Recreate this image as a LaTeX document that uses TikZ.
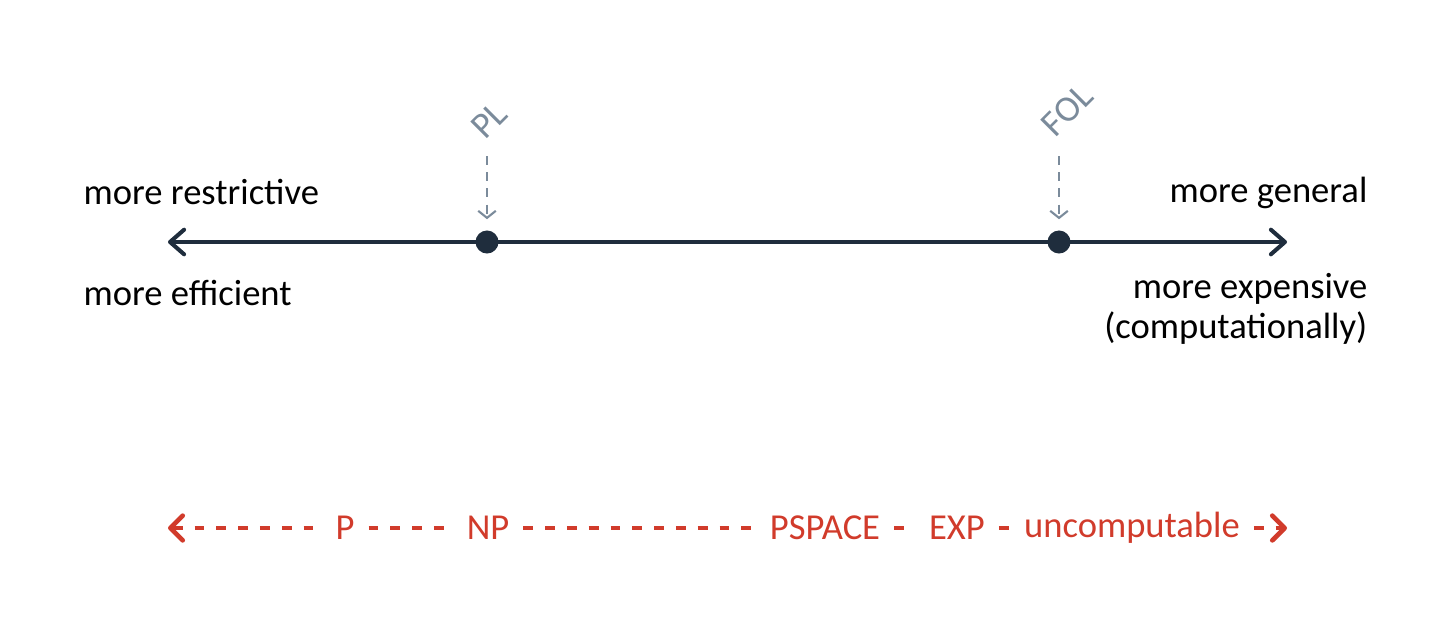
\documentclass[tikz,border=0pt]{standalone}
\usepackage{fontspec}
\setmainfont{Carlito}
\usepackage{xcolor}
\usepackage{tikz}
\usetikzlibrary{positioning,arrows.meta}
\definecolor{axisnavy}{HTML}{1F2D3D}
\definecolor{pointgray}{HTML}{7B8B9B}
\definecolor{classred}{HTML}{D13B2B}
\tikzset{
  classtip/.tip={Straight Barb[round,length=3.5pt,width=7pt]},
  axis line/.style={
    draw=axisnavy,
    line width=1.15pt,
    {Straight Barb[round,length=4pt,width=7pt]}-{Straight Barb[round,length=4pt,width=7pt]},
  },
  logic dot/.style={
    circle,
    fill=axisnavy,
    inner sep=0pt,
    minimum size={0.23cm},
  },
  logic label/.style={
    text=pointgray,
    rotate=45,
    inner sep=0pt,
  },
  pointer/.style={
    draw=pointgray,
    line width=0.6pt,
    dash pattern=on 2.6pt off 2pt,
    -{Straight Barb[length=2pt,width=5pt]},
  },
  side text/.style={
    inner sep=0pt,
  },
  class line/.style={
    draw=classred,
    line width=1.35pt,
    dash pattern=on 2.8pt off 3.4pt,
  },
  class/.style={
    text=classred,
    inner xsep=3.8pt,
    inner ysep=1pt,
  },
}

\begin{document}
\begin{tikzpicture}[x=0.01cm, y=-0.01cm, font=\fontsize{10.4}{11.4}\selectfont]
    \useasboundingbox (0,0) rectangle (1436,618);

    % the axis of logics
    \coordinate (axl) at (168,242);
    \coordinate (axr) at (1287,242);
    \draw [axis line] (axl) -- (axr);
    \node [logic dot] (pl) at (487,242) {};
    \node [logic dot] (fol) at (1059,242) {};

    \node [logic label] (pllab) at (489,120) {PL};
    \node [logic label] (follab) at (1067,110) {FOL};
    \coordinate (plfrom) at (487,156);
    \coordinate (folfrom) at (1059,156);
    \draw [pointer, shorten >=3pt] (plfrom) -- (pl.north);
    \draw [pointer, shorten >=3pt] (folfrom) -- (fol.north);

    \node [side text, anchor=west] (restr) at (83,192) {more restrictive};
    \node [side text, anchor=west] (effic) at (83,293) {more efficient};
    \node [side text, anchor=east] (gener) at (1368,193) {more general};
    \node [side text, anchor=east, align=right] (expen) at (1368,309)
        {more expensive\\(computationally)};

    % complexity classes
    \coordinate (cl) at (168,528);
    \coordinate (cr) at (1287,528);
    \node [class] (p) at (345,528) {P};
    \node [class] (np) at (488,528) {NP};
    \node [class] (pspace) at (825,528) {PSPACE};
    \node [class] (exp) at (957,528) {EXP};
    \node [class] (uncomp) at (1132,528) {uncomputable};
    \draw [class line, classtip-] (cl) -- (p);
    \draw [class line] (p) -- (np);
    \draw [class line] (np) -- (pspace);
    \draw [class line] (pspace) -- (exp);
    \draw [class line] (exp) -- (uncomp);
    \draw [class line, -classtip] (uncomp) -- (cr);
\end{tikzpicture}
\end{document}
